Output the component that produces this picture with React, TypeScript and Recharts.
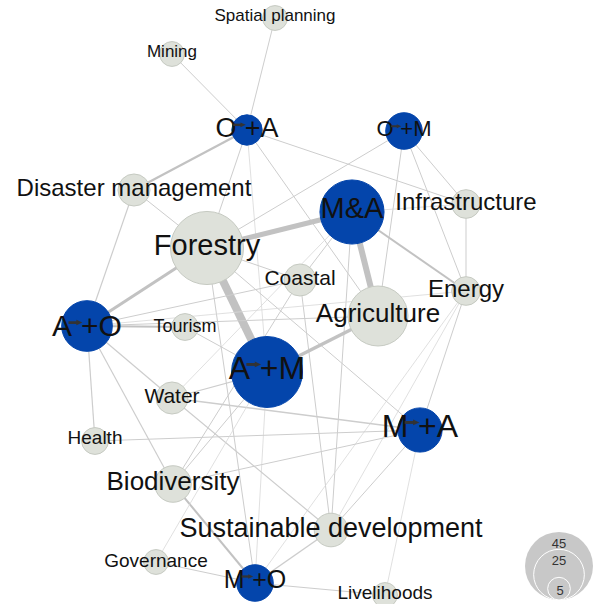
import { ScatterChart, Scatter, XAxis, YAxis, ZAxis } from "recharts";

// network nodes (layout position + weight)
const NODE_NAMES = [
  "Spatial planning", "Mining", "O+A", "O+M", "Disaster management", "M&A",
  "Infrastructure", "Forestry", "Coastal", "Energy", "Agriculture", "A+O",
  "Tourism", "A+M", "Water", "M+A", "Health", "Biodiversity",
  "Sustainable development", "Governance", "M+O", "Livelihoods",
];
const NODE_X = [275, 172, 247, 404, 134, 352, 466, 207, 300, 466, 378, 87, 185, 267, 172, 420, 95, 173, 331, 156, 255, 385];
const NODE_Y = [18, 54, 130, 131, 190, 212, 204, 248, 280, 291, 316, 326, 327, 372, 398, 430, 441, 484, 530, 562, 583, 595];
const NODE_WEIGHT = [6, 6, 9, 13, 10, 40, 8, 52, 10, 8, 35, 25, 7, 49, 10, 19, 7, 13, 11, 6, 13, 6];

// links: [source, target, weight]
const EDGES: [string, string, number][] = [
  ["Spatial planning", "O+A", 1],
  ["Mining", "O+A", 1],
  ["O+A", "Disaster management", 2.2],
  ["O+A", "Forestry", 1],
  ["O+A", "Infrastructure", 1],
  ["O+A", "Agriculture", 1],
  ["O+A", "A+M", 0.8],
  ["O+M", "Forestry", 1],
  ["O+M", "Infrastructure", 1],
  ["O+M", "Energy", 1],
  ["O+M", "Agriculture", 1],
  ["Disaster management", "Forestry", 1],
  ["Disaster management", "A+O", 1.2],
  ["M&A", "Forestry", 5],
  ["M&A", "Agriculture", 6],
  ["M&A", "Energy", 2],
  ["M&A", "Coastal", 1],
  ["M&A", "Sustainable development", 1],
  ["M&A", "Water", 0.8],
  ["M&A", "Infrastructure", 0.8],
  ["Infrastructure", "Energy", 1],
  ["Forestry", "A+M", 8],
  ["Forestry", "A+O", 3],
  ["Forestry", "Coastal", 1],
  ["Forestry", "M+O", 1],
  ["Forestry", "M+A", 1],
  ["Coastal", "Sustainable development", 1],
  ["Coastal", "Biodiversity", 1],
  ["A+O", "Coastal", 1],
  ["A+O", "Tourism", 2.2],
  ["A+O", "Agriculture", 1],
  ["A+O", "Energy", 0.8],
  ["A+O", "Water", 1.2],
  ["A+O", "Biodiversity", 1.2],
  ["A+O", "Health", 1.2],
  ["Tourism", "A+M", 1],
  ["A+M", "Agriculture", 3.5],
  ["A+M", "Water", 1.2],
  ["A+M", "M+O", 0.8],
  ["Energy", "M+A", 1],
  ["Energy", "Sustainable development", 0.8],
  ["Energy", "M+O", 0.8],
  ["Water", "M+A", 1.5],
  ["Water", "Sustainable development", 1.2],
  ["M+A", "Sustainable development", 1],
  ["M+A", "Livelihoods", 0.8],
  ["Health", "M+A", 1],
  ["Biodiversity", "M+A", 1],
  ["Biodiversity", "A+M", 1],
  ["Biodiversity", "M+O", 2],
  ["Governance", "A+M", 0.8],
  ["Governance", "M+O", 1],
  ["Sustainable development", "M+O", 1.5],
  ["M+O", "Livelihoods", 1],
];

const LEGEND_VALUES = [45, 25, 5];

// styles
const FONT = "'Liberation Sans', Arial, sans-serif";
const LABEL_FONT: Record<string, number> = {
  "Spatial planning": 17, Mining: 17, "O+A": 27, "O+M": 22, "Disaster management": 24,
  "M&A": 29, Infrastructure: 24, Forestry: 29, Coastal: 21, Energy: 24, Agriculture: 26,
  "A+O": 30, Tourism: 18, "A+M": 32, Water: 21, "M+A": 32, Health: 19, Biodiversity: 26,
  "Sustainable development": 27, Governance: 19, "M+O": 25, Livelihoods: 19,
};
const LABEL_DY: Record<string, number> = {
  "A+M": -5, "M+A": -5, "M&A": -4.5, "M+O": -4.5, Health: -4, "A+O": -1, Tourism: -1, Governance: -1.5,
};
// Arial advance widths (em) for the letters in the group labels
const GLYPH_W: Record<string, number> = { A: 0.667, O: 0.778, M: 0.833, "+": 0.584 };
const BLUE = "#0445ab";
const GREY_FILL = "#dee1da";
const GREY_STROKE = "#c6cac2";
const LEGEND_X = 559;
const LEGEND_BASE = 600;
const MAX_R = 34; // radius of the 45 legend circle

const nodes = NODE_NAMES.map((name, i) => ({ name, x: NODE_X[i], y: NODE_Y[i], z: NODE_WEIGHT[i] }));
const byName = Object.fromEntries(nodes.map((n) => [n.name, n]));
const legendData = LEGEND_VALUES.map((z) => ({ x: LEGEND_X, y: LEGEND_BASE, z }));

const isGroup = (name: string) => name.includes("+") || name.includes("&");

function NodeShape(props: any) {
  const { cx, cy, width, payload } = props;
  const r = width / 2;
  const group = isGroup(payload.name);
  return (
    <circle
      cx={cx}
      cy={cy}
      r={r}
      fill={group ? BLUE : GREY_FILL}
      stroke={group ? BLUE : GREY_STROKE}
      strokeWidth={1}
    />
  );
}

function LabelShape(props: any) {
  const { cx, cy, payload } = props;
  const name: string = payload.name;
  const fs = LABEL_FONT[name] ?? 18;
  const mid = cy + (LABEL_DY[name] ?? -3);
  const y = mid + fs * 0.36;
  if (name.includes("+")) {
    const [a, b] = name.split("+");
    const wa = GLYPH_W[a] * fs;
    const wRest = (GLYPH_W["+"] + GLYPH_W[b]) * fs;
    const gap = fs * 0.3;
    const left = cx - (wa + gap + wRest) / 2;
    const x0 = left + wa;
    const x1 = x0 + gap;
    const ay = mid - fs * 0.08;
    const head = fs * 0.14;
    const ax0 = x0 - fs * 0.12;
    const ax1 = x1 + fs * 0.04;
    return (
      <g fontFamily={FONT} fontSize={fs} fill="#111">
        <text x={x0} y={y} textAnchor="end">{a}</text>
        <text x={x1} y={y} textAnchor="start">+{b}</text>
        <line x1={ax0} y1={ay} x2={ax1 - head} y2={ay} stroke="#333" strokeWidth={fs * 0.09} />
        <polygon
          points={`${ax1},${ay} ${ax1 - head * 1.4},${ay - head * 0.65} ${ax1 - head * 1.4},${ay + head * 0.65}`}
          fill="#333"
        />
      </g>
    );
  }
  return (
    <text x={cx} y={y} textAnchor="middle" fontFamily={FONT} fontSize={fs} fill="#111">
      {name}
    </text>
  );
}

function LegendShape(props: any) {
  const { cx, cy, width, payload, index } = props;
  const r = width / 2;
  const top = cy - 2 * r;
  return (
    <g>
      <circle
        cx={cx}
        cy={cy - r}
        r={r}
        fill="#c8c8c8"
        stroke={index === 0 ? "none" : "#ffffff"}
        strokeWidth={1}
      />
      <text
        x={cx + (index === 2 ? 1 : 0)}
        y={top + (index === 2 ? 13 : 11) + 13 * 0.36}
        textAnchor="middle"
        fontFamily={FONT}
        fontSize={13}
        fill="#333"
      >
        {payload.z}
      </text>
    </g>
  );
}

const edgeColor = (w: number) => (w >= 2 ? "#c2c2c2" : w >= 1 ? "#cdcdcd" : "#d8d8d8");

export default function App() {
  return (
    <div style={{ position: "absolute", left: 0, top: 0, width: 595, height: 604, background: "#fff" }}>
      <ScatterChart width={595} height={604} margin={{ top: 0, right: 0, bottom: 0, left: 0 }}>
        <XAxis type="number" dataKey="x" domain={[0, 595]} allowDataOverflow hide />
        <YAxis type="number" dataKey="y" domain={[0, 604]} allowDataOverflow reversed hide />
        <ZAxis type="number" dataKey="z" domain={[0, 60]} range={[0, (Math.PI * MAX_R * MAX_R * 60) / 45]} />
        {EDGES.map(([s, t, w], i) => (
          <Scatter
            key={`e${i}`}
            data={[byName[s], byName[t]]}
            fill="none"
            line={{ stroke: edgeColor(w), strokeWidth: w }}
            shape={() => <g />}
            isAnimationActive={false}
          />
        ))}
        <Scatter data={nodes} shape={NodeShape} isAnimationActive={false} />
        <Scatter data={nodes} shape={LabelShape} isAnimationActive={false} />
        <Scatter data={legendData} shape={LegendShape} isAnimationActive={false} />
      </ScatterChart>
    </div>
  );
}
